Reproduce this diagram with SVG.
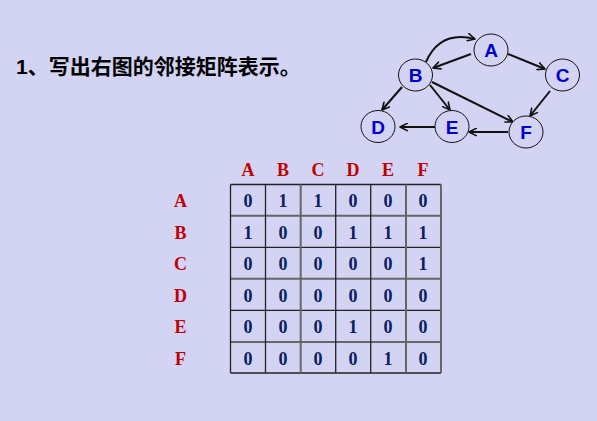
<svg xmlns="http://www.w3.org/2000/svg" width="597" height="421" viewBox="0 0 597 421">
<defs>
<marker id="arr" viewBox="0 0 10 10" refX="9" refY="5" markerWidth="4.5" markerHeight="4.5" orient="auto" markerUnits="strokeWidth">
<path d="M1,1 L9,5 L1,9" fill="none" stroke="#111" stroke-width="1.8" stroke-linecap="round" stroke-linejoin="round"/>
</marker>
</defs>
<style>
.bg{fill:#D3D3F4}
.title{font-family:"Liberation Sans","Noto Sans CJK SC",sans-serif;font-size:21px;font-weight:bold;fill:#000}
.node ellipse{fill:#D3D3F4;stroke:#111;stroke-width:1}
.node text{font-family:"Liberation Sans",Arial,sans-serif;font-size:19px;font-weight:bold;fill:#0000CC;text-anchor:middle}
.edge{fill:none;stroke:#111;stroke-width:2;marker-end:url(#arr)}
.hdr{font-family:"Liberation Serif","Times New Roman",serif;font-size:18px;font-weight:bold;fill:#C00000;text-anchor:middle}
.num{font-family:"Liberation Serif","Times New Roman",serif;font-size:18px;font-weight:bold;fill:#0A2060;text-anchor:middle}
.grid{stroke:#222;stroke-width:1.3}
.grid2{stroke:#666;stroke-width:2}
</style>
<rect class="bg" x="0" y="0" width="597" height="421"/>
<text class="title" x="16" y="74">1、写出右图的邻接矩阵表示。</text>

<g id="connectors">
<path class="edge" d="M426,62 Q440,30 475,39"/>
<path class="edge" d="M471,54 L433,68"/>
<path class="edge" d="M508,54 L545,69"/>
<path class="edge" d="M550,91 L530,116"/>
<path class="edge" d="M402,87 L382,110"/>
<path class="edge" d="M430,85 L450,110"/>
<path class="edge" d="M432,82 L513,122"/>
<path class="edge" d="M508,132 L469,132"/>
<path class="edge" d="M435,127 L400,127"/>
</g>

<g id="node-A" class="node"><ellipse cx="491" cy="50" rx="17" ry="16"/><text x="491" y="57">A</text></g>
<g id="node-B" class="node"><ellipse cx="415.5" cy="75" rx="17" ry="16"/><text x="415.5" y="82">B</text></g>
<g id="node-C" class="node"><ellipse cx="562.5" cy="75" rx="17" ry="16"/><text x="562.5" y="82">C</text></g>
<g id="node-D" class="node"><ellipse cx="378" cy="126.5" rx="17" ry="16"/><text x="378" y="133.5">D</text></g>
<g id="node-E" class="node"><ellipse cx="452" cy="126.5" rx="17" ry="16"/><text x="452" y="133.5">E</text></g>
<g id="node-F" class="node"><ellipse cx="526" cy="132" rx="17" ry="16"/><text x="526" y="139">F</text></g>

<g id="matrix">
<g id="col-headers">
<text class="hdr" x="248" y="176">A</text>
<text class="hdr" x="283" y="176">B</text>
<text class="hdr" x="318" y="176">C</text>
<text class="hdr" x="353" y="176">D</text>
<text class="hdr" x="388" y="176">E</text>
<text class="hdr" x="423" y="176">F</text>
</g>
<g id="row-headers">
<text class="hdr" x="180.5" y="207">A</text>
<text class="hdr" x="180.5" y="238.5">B</text>
<text class="hdr" x="180.5" y="270">C</text>
<text class="hdr" x="180.5" y="301.5">D</text>
<text class="hdr" x="180.5" y="333">E</text>
<text class="hdr" x="180.5" y="364.5">F</text>
</g>
<g id="grid">
<line class="grid" x1="230.5" y1="184.5" x2="441" y2="184.5"/>
<line class="grid2" x1="230.5" y1="215.7" x2="441" y2="215.7"/>
<line class="grid" x1="230.5" y1="247.3" x2="441" y2="247.3"/>
<line class="grid2" x1="230.5" y1="278.7" x2="441" y2="278.7"/>
<line class="grid" x1="230.5" y1="310.3" x2="441" y2="310.3"/>
<line class="grid2" x1="230.5" y1="342" x2="441" y2="342"/>
<line class="grid" x1="230.5" y1="373" x2="441" y2="373"/>
<line class="grid" x1="230.5" y1="184.5" x2="230.5" y2="373"/>
<line class="grid" x1="265.5" y1="184.5" x2="265.5" y2="373"/>
<line class="grid2" x1="300.7" y1="184.5" x2="300.7" y2="373"/>
<line class="grid" x1="335.7" y1="184.5" x2="335.7" y2="373"/>
<line class="grid" x1="370.7" y1="184.5" x2="370.7" y2="373"/>
<line class="grid2" x1="406" y1="184.5" x2="406" y2="373"/>
<line class="grid2" x1="441" y1="184.5" x2="441" y2="373"/>
</g>
<g id="values">
<text class="num" x="248" y="207">0</text><text class="num" x="283" y="207">1</text><text class="num" x="318" y="207">1</text><text class="num" x="353" y="207">0</text><text class="num" x="388" y="207">0</text><text class="num" x="423" y="207">0</text>
<text class="num" x="248" y="238.5">1</text><text class="num" x="283" y="238.5">0</text><text class="num" x="318" y="238.5">0</text><text class="num" x="353" y="238.5">1</text><text class="num" x="388" y="238.5">1</text><text class="num" x="423" y="238.5">1</text>
<text class="num" x="248" y="270">0</text><text class="num" x="283" y="270">0</text><text class="num" x="318" y="270">0</text><text class="num" x="353" y="270">0</text><text class="num" x="388" y="270">0</text><text class="num" x="423" y="270">1</text>
<text class="num" x="248" y="301.5">0</text><text class="num" x="283" y="301.5">0</text><text class="num" x="318" y="301.5">0</text><text class="num" x="353" y="301.5">0</text><text class="num" x="388" y="301.5">0</text><text class="num" x="423" y="301.5">0</text>
<text class="num" x="248" y="333">0</text><text class="num" x="283" y="333">0</text><text class="num" x="318" y="333">0</text><text class="num" x="353" y="333">1</text><text class="num" x="388" y="333">0</text><text class="num" x="423" y="333">0</text>
<text class="num" x="248" y="364.5">0</text><text class="num" x="283" y="364.5">0</text><text class="num" x="318" y="364.5">0</text><text class="num" x="353" y="364.5">0</text><text class="num" x="388" y="364.5">1</text><text class="num" x="423" y="364.5">0</text>
</g>
</g>
</svg>
